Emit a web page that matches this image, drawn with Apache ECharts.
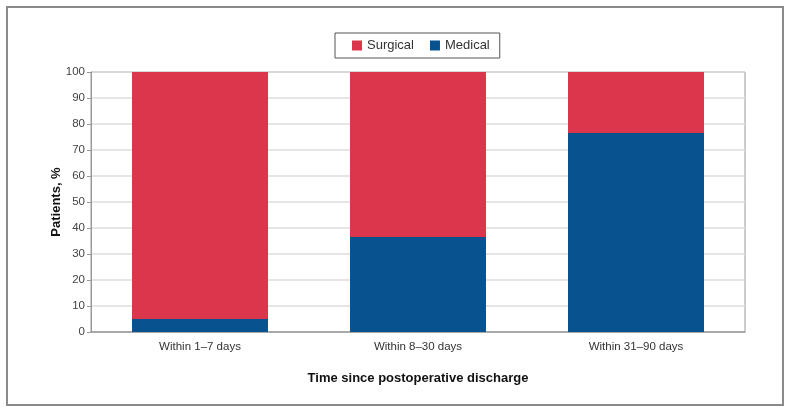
<!DOCTYPE html>
<html>
<head>
<meta charset="utf-8">
<script src="https://cdn.jsdelivr.net/npm/echarts@6/dist/echarts.min.js"></script>
<style>
html,body{margin:0;padding:0;background:#fff;}
#frame{position:absolute;left:6px;top:6px;width:778px;height:400px;border:2px solid #8a8a8a;box-sizing:border-box;}
#c{position:absolute;left:0;top:0;width:790px;height:414px;}
</style>
</head>
<body>
<div id="frame"></div>
<div id="c"></div>
<script>
const categories = ["Within 1\u20137 days", "Within 8\u201330 days", "Within 31\u201390 days"];
const medical = [5, 36.5, 76.5];
const surgical = [95, 63.5, 23.5];
const yTicks = [0, 10, 20, 30, 40, 50, 60, 70, 80, 90, 100];

const chart = echarts.init(document.getElementById('c'));
const font = 'Liberation Sans, Arial, sans-serif';
chart.setOption({
  animation: false,
  textStyle: {fontFamily: font},
  legend: {
    top: 33, left: 335,
    data: ['Surgical', 'Medical'],
    itemWidth: 10, itemHeight: 10, itemGap: 16,
    icon: 'rect',
    borderColor: '#555', borderWidth: 1, padding: [6, 10, 6, 17],
    textStyle: {fontSize: 13, color: '#333', fontFamily: font}
  },
  grid: {left: 91, right: 45, top: 72, bottom: 82, show: true, borderColor: '#999', borderWidth: 1},
  xAxis: {
    type: 'category', data: categories,
    name: 'Time since postoperative discharge', nameLocation: 'middle', nameGap: 40,
    nameTextStyle: {fontWeight: 'bold', fontSize: 13, color: '#111', fontFamily: font},
    axisLine: {lineStyle: {color: '#999', width: 1.5}},
    axisTick: {show: false},
    axisLabel: {fontSize: 11.5, color: '#333', margin: 9}
  },
  yAxis: {
    type: 'value', min: 0, max: 100, interval: 10,
    name: 'Patients, %', nameLocation: 'middle', nameGap: 28, nameMoveOverlap: false,
    nameTextStyle: {fontWeight: 'bold', fontSize: 13, color: '#111', fontFamily: font},
    axisLine: {show: true, lineStyle: {color: '#999'}},
    axisTick: {show: true, length: 4, lineStyle: {color: '#999'}},
    axisLabel: {fontSize: 11.5, color: '#444', margin: 6, formatter: v => yTicks.includes(v) ? String(v) : ''},
    splitLine: {lineStyle: {color: '#dcdcdc', width: 1.5}}
  },
  series: [
    {name: 'Medical', type: 'bar', stack: 'a', data: medical, barWidth: 136, itemStyle: {color: '#07528f'}},
    {name: 'Surgical', type: 'bar', stack: 'a', data: surgical, barWidth: 136, itemStyle: {color: '#db364b'}}
  ]
});
</script>
</body>
</html>
